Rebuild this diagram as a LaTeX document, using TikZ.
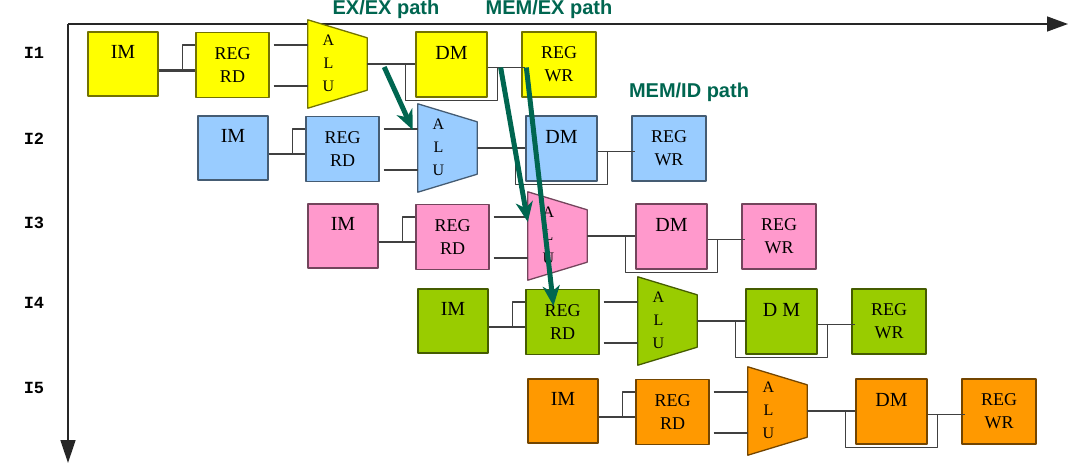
\documentclass[tikz,border=0pt]{standalone}
\usepackage{fontspec}
\setmainfont{Liberation Serif}
\newfontfamily\pathfont{Liberation Sans}
\newfontfamily\rowfont{Liberation Mono}
\usetikzlibrary{arrows.meta,calc}
\definecolor{cyel}{HTML}{FFFF00}
\definecolor{cblue}{HTML}{99CCFF}
\definecolor{cpink}{HTML}{FF99CC}
\definecolor{cgreen}{HTML}{99CC00}
\definecolor{corange}{HTML}{FF9900}
\definecolor{fwdgreen}{HTML}{006650}
\begin{document}
\begin{tikzpicture}[x=1pt,y=-1pt,line join=round,
	box/.style={draw=#1!45!black,fill=#1,line width=1.3pt,inner sep=0pt,align=center,font=\fontsize{18}{23}\selectfont},
	wire/.style={draw=black!75,line width=1.1pt},
	fwd/.style={draw=fwdgreen,line width=5pt,-{Stealth[length=20pt,width=17pt,inset=6pt]}},
	pathlbl/.style={text=fwdgreen,font=\pathfont\bfseries\fontsize{20}{24}\selectfont}]
	\useasboundingbox (0,0) rectangle (1077,474);
	% time axes
	\coordinate (o) at (68,24); \coordinate (tend) at (1068,24); \coordinate (iend) at (68,463);
	\draw[line width=1.4pt,draw=black!85,-{Triangle[length=21pt,width=15pt]}] (o)--(tend);
	\draw[line width=1.4pt,draw=black!85,-{Triangle[length=23pt,width=15pt]}] (o)--(iend);
	\foreach \i/\y in {1/53,2/139,3/223,4/303,5/388}\path(34,\y)node[font=\rowfont\bfseries\fontsize{17}{20}\selectfont](i\i){I\i};
	% pipeline stages, one row per instruction
	\foreach \r/\c/\x/\y/\d/\w in {1/cyel/88/32/DM/3pt,2/cblue/198/116/DM/1.1pt,3/cpink/308/204/DM/1.1pt,4/cgreen/418/289/D M/1.1pt,5/corange/528/379/DM/1.1pt}{
	\begin{scope}[shift={(\x,\y)}]
		\node[box=\c,minimum width=70,minimum height=64,font=\fontsize{20}{24}\selectfont](im\r) at (35,32){IM\\\phantom{R}};
		\node[box=\c,minimum width=73,minimum height=65](rd\r) at (144.5,33){REG\\RD};
		\node[minimum width=59,minimum height=88,inner sep=0pt](alu\r) at (249.5,32){};
		\draw[draw=\c!45!black,fill=\c,line width=1.3pt] (alu\r.north west)--([yshift=-18]alu\r.north east)--([yshift=18]alu\r.south east)--(alu\r.south west)--cycle;
		\path([xshift=-9,yshift=1]alu\r.center)node[align=center,font=\fontsize{16}{23}\selectfont]{A\\L\\U};
		\node[box=\c,minimum width=71,minimum height=65,font=\fontsize{20}{24}\selectfont](dm\r) at (363.5,32.5){\d\\\phantom{R}};
		\node[box=\c,minimum width=74,minimum height=65](wr\r) at (471,32.5){REG\\WR};
		\draw[wire,line width=\w]([yshift=-6]im\r.east)--([yshift=-6]im\r.east-|rd\r.west);
		\draw[wire]([xshift=24,yshift=-6]im\r.east)|-([yshift=20]rd\r.west);
		\foreach \s in {20,-21}\draw[wire]([xshift=4,yshift=\s]rd\r.east)--([yshift=\s]rd\r.east-|alu\r.west);
		\draw[wire](alu\r.east)--(alu\r.east-|dm\r.west);
		\draw[wire]([yshift=-3]dm\r.east)--([xshift=4,yshift=-3]dm\r.east-|wr\r.west);
		\draw[wire]([xshift=-10]dm\r.west)|-([xshift=10,yshift=-3]dm\r.south east)--([xshift=10,yshift=-3]dm\r.east);
	\end{scope}}
	% forwarding paths
	\draw[fwd]([xshift=17,yshift=-3]alu1.east)--([xshift=-5,yshift=18]alu2.west);
	\draw[fwd]([xshift=13,yshift=-3]dm1.east)--([yshift=14]alu3.west);
	\draw[fwd]([xshift=5,yshift=-3]wr1.west)--([xshift=-9,yshift=-17]rd4.north);
	\path(386,9)node[pathlbl](exex){EX/EX path} (549,9)node[pathlbl](memex){MEM/EX path} (689,92)node[pathlbl](memid){MEM/ID path};
\end{tikzpicture}
\end{document}
